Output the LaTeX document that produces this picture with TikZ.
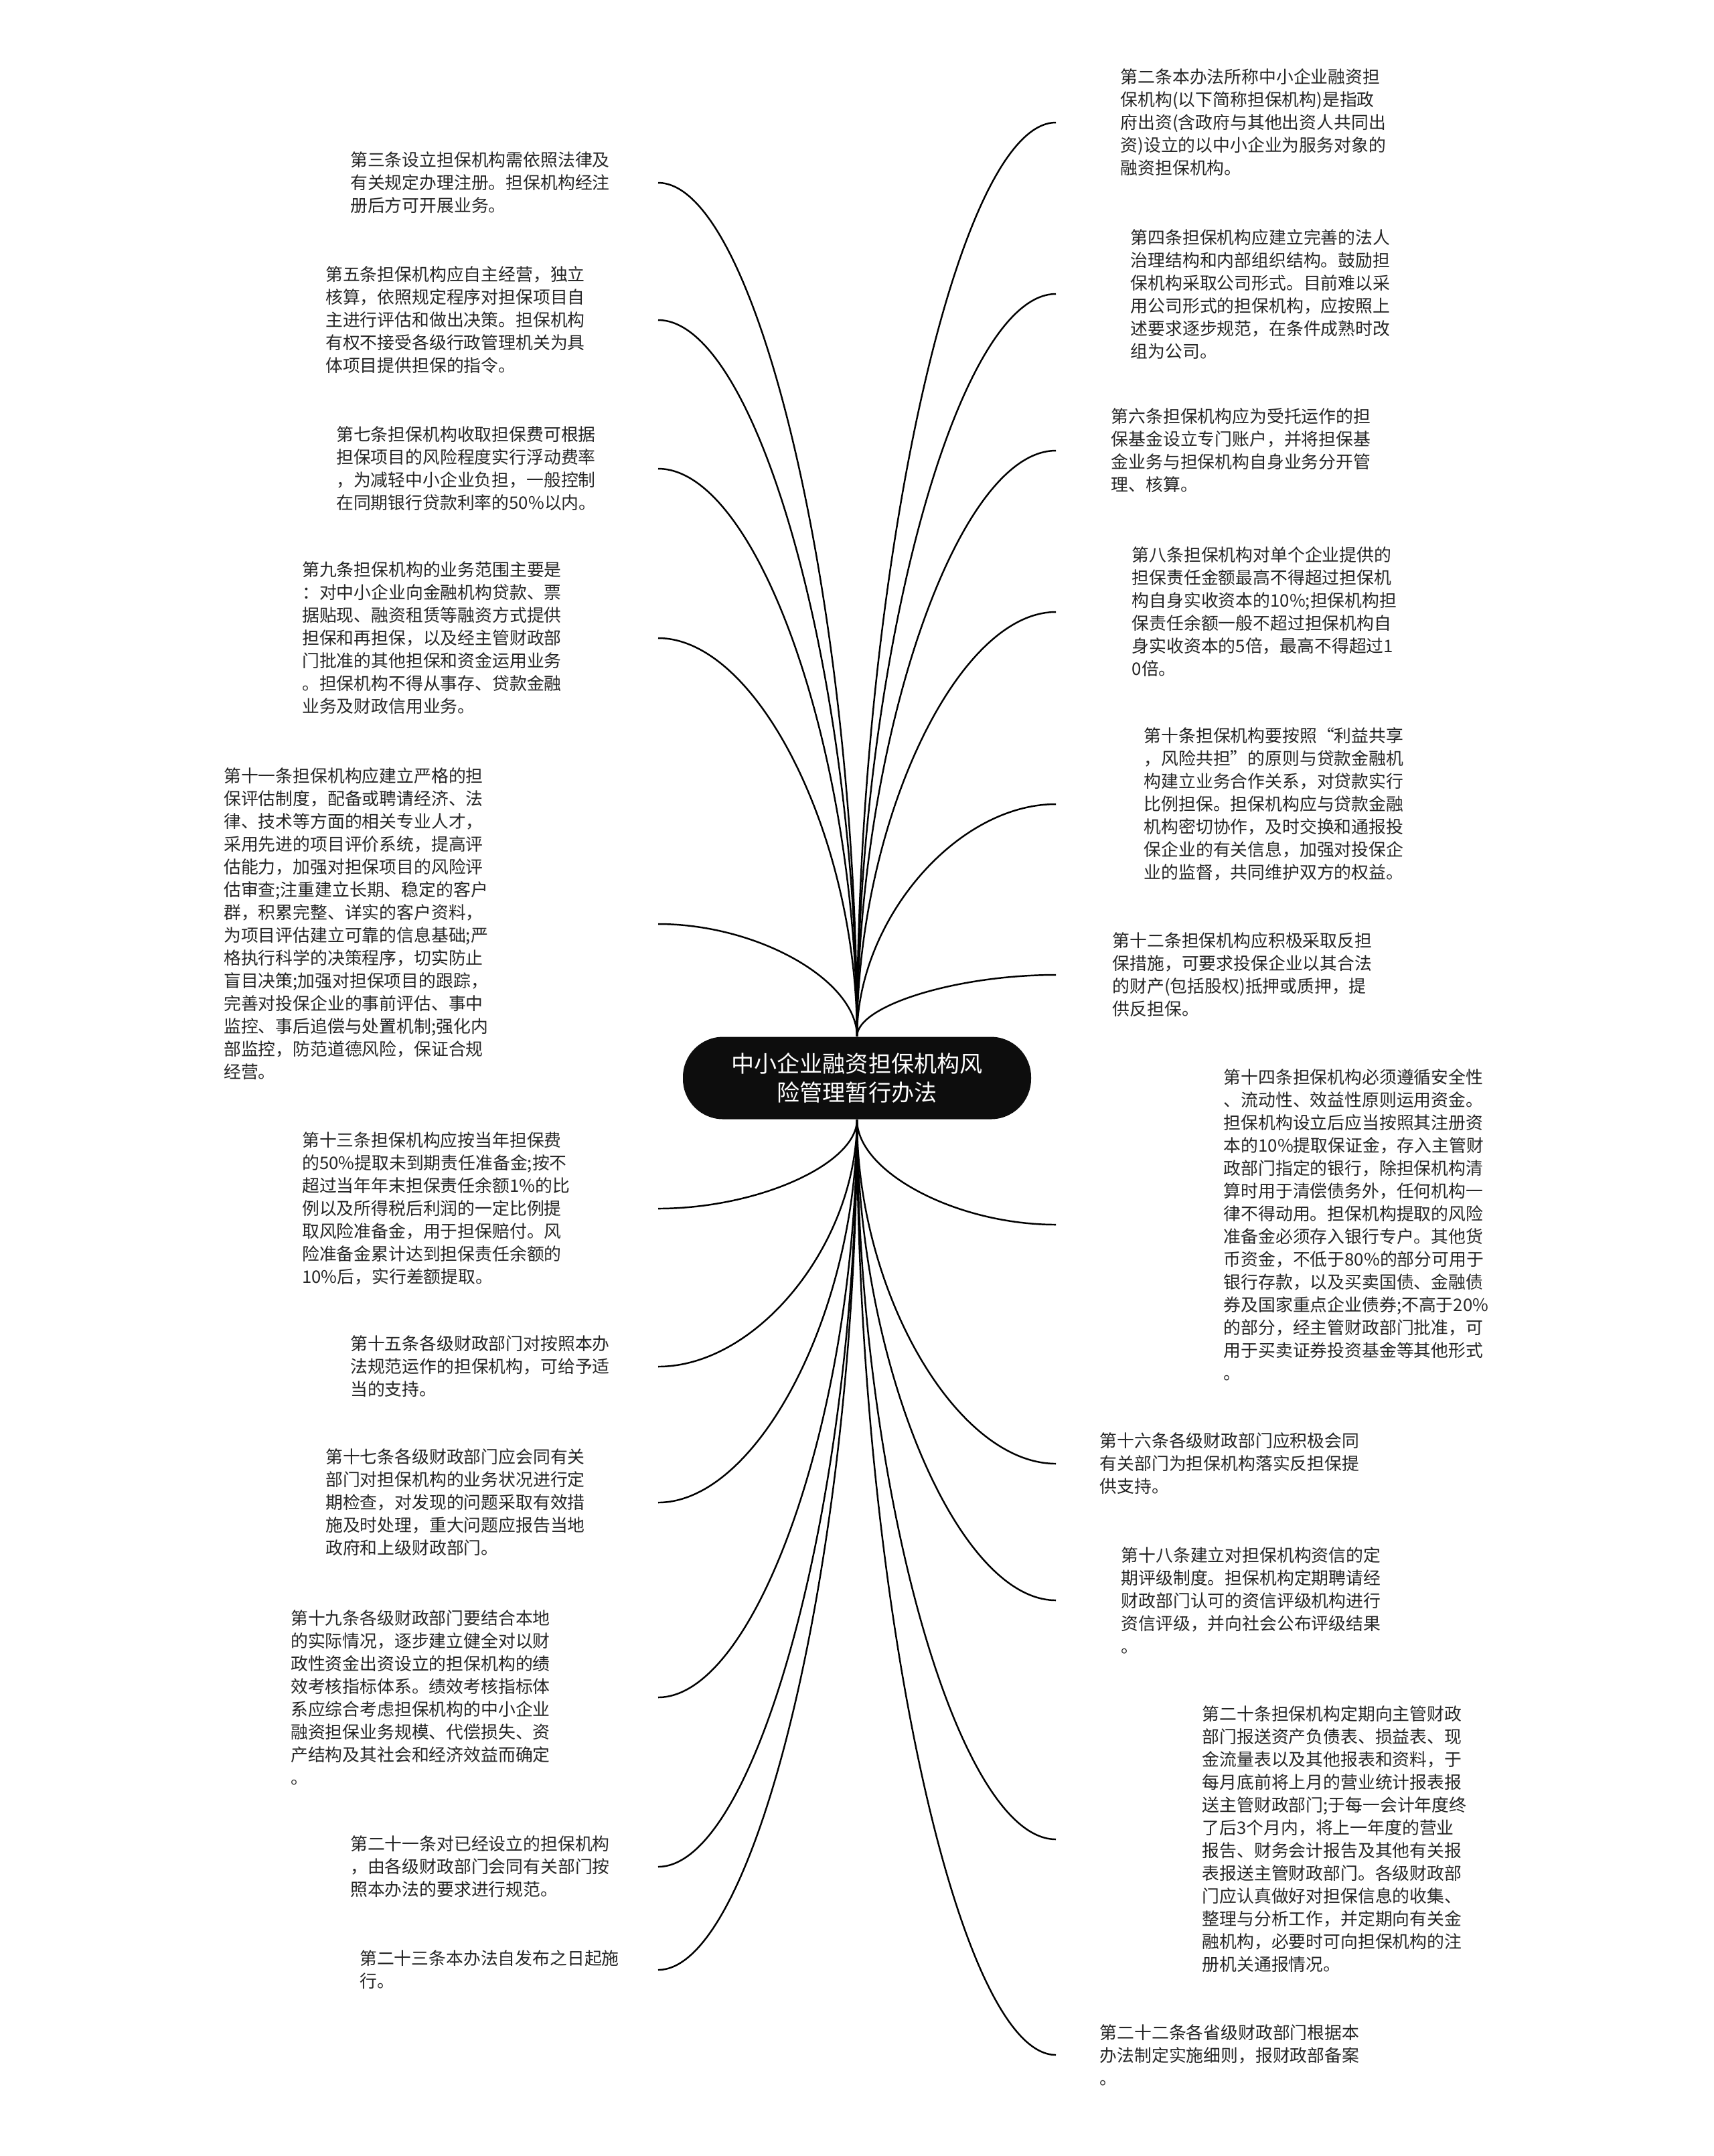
\documentclass[tikz,border=0pt]{standalone}
\usepackage{fontspec}
\setmainfont{Noto Sans CJK SC}
\usetikzlibrary{calc}
\tikzset{
  branch/.style={line width=0.7pt, to path={.. controls ($(\tikztostart)!0.5!(\tikztostart |- \tikztotarget)$) and ($(\tikztotarget)!0.5!(\tikztostart |- \tikztotarget)$) .. (\tikztotarget)}},
  rootbox/.style={fill=black!95, text=white, rounded corners=0.6cm, minimum width=5.2cm, minimum height=1.23cm, align=center, font=\fontsize{9.7}{12.2}\selectfont},
  lleaf/.style={anchor=east, align=left, inner sep=0pt, text=black!85, font=\fontsize{7.35}{9.67}\selectfont},
  rleaf/.style={anchor=west, align=left, inner ysep=0pt, text=black!85, font=\fontsize{7.35}{9.67}\selectfont}
}
\begin{document}
\begin{tikzpicture}
  \useasboundingbox (0,0) rectangle (25.6,-32.2);
  \node[rootbox] (root) at (12.8,-16.1) {中小企业融资担保机构风\\险管理暂行办法};

  % left branches
  \node[lleaf, text width=4.59cm] (a3) at (9.83,-2.73) {第三条设立担保机构需依照法律及\\
    有关规定办理注册。担保机构经注\\册后方可开展业务。};
  \node[lleaf, text width=4.96cm] (a5) at (9.83,-4.78) {第五条担保机构应自主经营，独立\\
    核算，依照规定程序对担保项目自\\主进行评估和做出决策。担保机构\\
    有权不接受各级行政管理机关为具\\体项目提供担保的指令。};
  \node[lleaf, text width=4.80cm] (a7) at (9.83,-7.00) {第七条担保机构收取担保费可根据\\
    担保项目的风险程度实行浮动费率\\，为减轻中小企业负担，一般控制\\
    在同期银行贷款利率的50\%以内。};
  \node[lleaf, text width=5.31cm] (a9) at (9.83,-9.53) {第九条担保机构的业务范围主要是\\
    ：对中小企业向金融机构贷款、票\\据贴现、融资租赁等融资方式提供\\
    担保和再担保，以及经主管财政部\\门批准的其他担保和资金运用业务\\
    。担保机构不得从事存、贷款金融\\业务及财政信用业务。};
  \node[lleaf, text width=6.48cm] (a11) at (9.83,-13.80) {第十一条担保机构应建立严格的担\\
    保评估制度，配备或聘请经济、法\\律、技术等方面的相关专业人才，\\
    采用先进的项目评价系统，提高评\\估能力，加强对担保项目的风险评\\
    估审查;注重建立长期、稳定的客户\\群，积累完整、详实的客户资料，\\
    为项目评估建立可靠的信息基础;严\\格执行科学的决策程序，切实防止\\
    盲目决策;加强对担保项目的跟踪，\\完善对投保企业的事前评估、事中\\
    监控、事后追偿与处置机制;强化内\\部监控，防范道德风险，保证合规\\
    经营。};
  \node[lleaf, text width=5.31cm] (a13) at (9.83,-18.05) {第十三条担保机构应按当年担保费\\
    的50\%提取未到期责任准备金;按不\\超过当年年末担保责任余额1\%的比\\
    例以及所得税后利润的一定比例提\\取风险准备金，用于担保赔付。风\\
    险准备金累计达到担保责任余额的\\10\%后，实行差额提取。};
  \node[lleaf, text width=4.59cm] (a15) at (9.83,-20.41) {第十五条各级财政部门对按照本办\\
    法规范运作的担保机构，可给予适\\当的支持。};
  \node[lleaf, text width=4.96cm] (a17) at (9.83,-22.44) {第十七条各级财政部门应会同有关\\
    部门对担保机构的业务状况进行定\\期检查，对发现的问题采取有效措\\
    施及时处理，重大问题应报告当地\\政府和上级财政部门。};
  \node[lleaf, text width=5.48cm] (a19) at (9.83,-25.35) {第十九条各级财政部门要结合本地\\
    的实际情况，逐步建立健全对以财\\政性资金出资设立的担保机构的绩\\
    效考核指标体系。绩效考核指标体\\系应综合考虑担保机构的中小企业\\
    融资担保业务规模、代偿损失、资\\产结构及其社会和经济效益而确定\\。};
  \node[lleaf, text width=4.59cm] (a21) at (9.83,-27.88) {第二十一条对已经设立的担保机构\\
    ，由各级财政部门会同有关部门按\\照本办法的要求进行规范。};
  \node[lleaf, text width=4.45cm] (a23) at (9.83,-29.42) {第二十三条本办法自发布之日起施\\行。};

  % right branches
  \node[rleaf, inner xsep=0.96cm] (a2) at (15.77,-1.83) {第二条本办法所称中小企业融资担\\
    保机构(以下简称担保机构)是指政\\府出资(含政府与其他出资人共同出\\
    资)设立的以中小企业为服务对象的\\融资担保机构。};
  \node[rleaf, inner xsep=1.11cm] (a4) at (15.77,-4.39) {第四条担保机构应建立完善的法人\\
    治理结构和内部组织结构。鼓励担\\保机构采取公司形式。目前难以采\\
    用公司形式的担保机构，应按照上\\述要求逐步规范，在条件成熟时改\\组为公司。};
  \node[rleaf, inner xsep=0.82cm] (a6) at (15.77,-6.73) {第六条担保机构应为受托运作的担\\
    保基金设立专门账户，并将担保基\\金业务与担保机构自身业务分开管\\理、核算。};
  \node[rleaf, inner xsep=1.13cm] (a8) at (15.77,-9.14) {第八条担保机构对单个企业提供的\\
    担保责任金额最高不得超过担保机\\构自身实收资本的10\%;担保机构担\\
    保责任余额一般不超过担保机构自\\身实收资本的5倍，最高不得超过1\\0倍。};
  \node[rleaf, inner xsep=1.31cm] (a10) at (15.77,-12.01) {第十条担保机构要按照“利益共享\\
    ，风险共担”的原则与贷款金融机\\构建立业务合作关系，对贷款实行\\
    比例担保。担保机构应与贷款金融\\机构密切协作，及时交换和通报投\\
    保企业的有关信息，加强对投保企\\业的监督，共同维护双方的权益。};
  \node[rleaf, inner xsep=0.84cm] (a12) at (15.77,-14.56) {第十二条担保机构应积极采取反担\\
    保措施，可要求投保企业以其合法\\的财产(包括股权)抵押或质押，提\\供反担保。};
  \node[rleaf, inner xsep=2.50cm] (a14) at (15.77,-18.29) {第十四条担保机构必须遵循安全性\\
    、流动性、效益性原则运用资金。\\担保机构设立后应当按照其注册资\\
    本的10\%提取保证金，存入主管财\\政部门指定的银行，除担保机构清\\
    算时用于清偿债务外，任何机构一\\律不得动用。担保机构提取的风险\\
    准备金必须存入银行专户。其他货\\币资金，不低于80\%的部分可用于\\
    银行存款，以及买卖国债、金融债\\券及国家重点企业债券;不高于20\%\\
    的部分，经主管财政部门批准，可\\用于买卖证券投资基金等其他形式\\。};
  \node[rleaf, inner xsep=0.65cm] (a16) at (15.77,-21.86) {第十六条各级财政部门应积极会同\\
    有关部门为担保机构落实反担保提\\供支持。};
  \node[rleaf, inner xsep=0.97cm] (a18) at (15.77,-23.90) {第十八条建立对担保机构资信的定\\
    期评级制度。担保机构定期聘请经\\财政部门认可的资信评级机构进行\\
    资信评级，并向社会公布评级结果\\。};
  \node[rleaf, inner xsep=2.18cm] (a20) at (15.77,-27.47) {第二十条担保机构定期向主管财政\\
    部门报送资产负债表、损益表、现\\金流量表以及其他报表和资料，于\\
    每月底前将上月的营业统计报表报\\送主管财政部门;于每一会计年度终\\
    了后3个月内，将上一年度的营业\\报告、财务会计报告及其他有关报\\
    表报送主管财政部门。各级财政部\\门应认真做好对担保信息的收集、\\
    整理与分析工作，并定期向有关金\\融机构，必要时可向担保机构的注\\
    册机关通报情况。};
  \node[rleaf, inner xsep=0.65cm] (a22) at (15.77,-30.69) {第二十二条各省级财政部门根据本\\
    办法制定实施细则，报财政部备案\\。};

  % connectors
  \draw[branch] (root.north) to (a3.east);
  \draw[branch] (root.north) to (a5.east);
  \draw[branch] (root.north) to (a7.east);
  \draw[branch] (root.north) to (a9.east);
  \draw[branch] (root.north) to (a11.east);
  \draw[branch] (root.south) to (a13.east);
  \draw[branch] (root.south) to (a15.east);
  \draw[branch] (root.south) to (a17.east);
  \draw[branch] (root.south) to (a19.east);
  \draw[branch] (root.south) to (a21.east);
  \draw[branch] (root.south) to (a23.east);
  \draw[branch] (root.north) to (a2.west);
  \draw[branch] (root.north) to (a4.west);
  \draw[branch] (root.north) to (a6.west);
  \draw[branch] (root.north) to (a8.west);
  \draw[branch] (root.north) to (a10.west);
  \draw[branch] (root.north) to (a12.west);
  \draw[branch] (root.south) to (a14.west);
  \draw[branch] (root.south) to (a16.west);
  \draw[branch] (root.south) to (a18.west);
  \draw[branch] (root.south) to (a20.west);
  \draw[branch] (root.south) to (a22.west);
\end{tikzpicture}
\end{document}
